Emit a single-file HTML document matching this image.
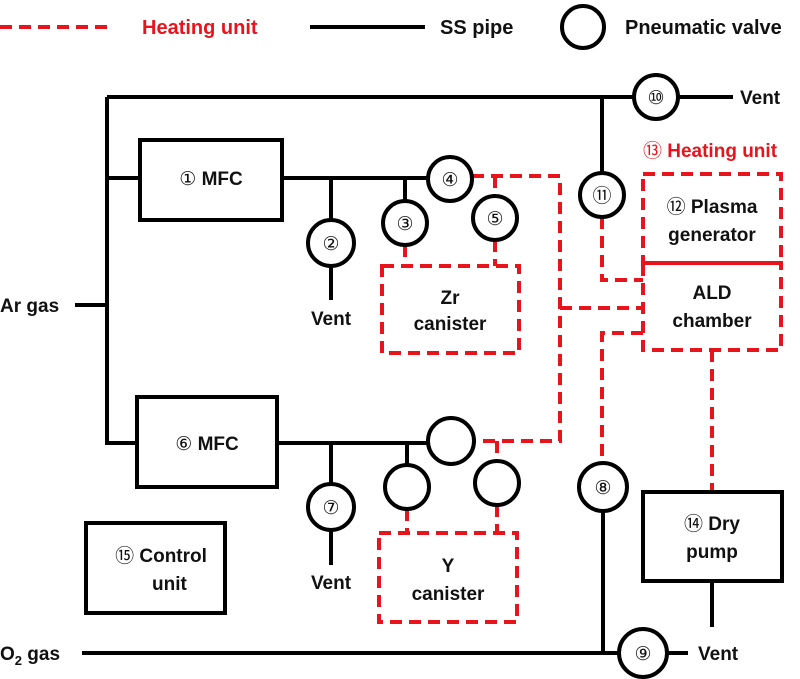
<!DOCTYPE html>
<html><head><meta charset="utf-8"><style>
html,body{margin:0;padding:0;background:#fff;}
svg{display:block;}
text{font-family:"Liberation Sans","DejaVu Sans",sans-serif;font-weight:bold;font-size:19px;fill:#111;}
.n{font-family:"DejaVu Sans",sans-serif;font-weight:normal;font-size:19px;}
.r{fill:#e8141b;}
.lg{font-size:20px;}
</style></head><body>
<svg width="800" height="679" viewBox="0 0 800 679" xmlns="http://www.w3.org/2000/svg">
<g fill="none" stroke="#e8141b" stroke-width="4" stroke-dasharray="12,7">
<line x1="0" y1="27" x2="114" y2="27"/>
<polyline points="472,176 560,176 560,441 474,441"/>
<line x1="495" y1="176" x2="495" y2="196"/>
<line x1="497" y1="441" x2="497" y2="461"/>
<line x1="560" y1="308" x2="643" y2="308"/>
<polyline points="602,217 602,280 643,280"/>
<polyline points="643,333 602,333 602,463"/>
<line x1="405" y1="245" x2="405" y2="266"/>
<line x1="495" y1="240" x2="495" y2="266"/>
<rect x="382" y="266" width="137" height="87"/>
<line x1="407" y1="509" x2="407" y2="533"/>
<line x1="497" y1="505" x2="497" y2="533"/>
<rect x="379" y="533" width="138" height="89"/>
<rect x="643" y="174" width="138" height="89"/>
<rect x="643" y="263" width="138" height="87"/>
<line x1="712" y1="350" x2="712" y2="492"/>
</g>
<g fill="none" stroke="#000" stroke-width="4">
<line x1="310" y1="27" x2="425" y2="27"/>
<line x1="107" y1="97" x2="634" y2="97"/>
<line x1="678" y1="97" x2="733" y2="97"/>
<polyline points="140,178 107,178 107,97"/>
<polyline points="107,178 107,443 137,443"/>
<line x1="75" y1="305" x2="107" y2="305"/>
<rect x="140" y="140" width="142" height="80"/>
<line x1="282" y1="178" x2="428" y2="178"/>
<line x1="331" y1="178" x2="331" y2="220"/>
<line x1="331" y1="266" x2="331" y2="300"/>
<line x1="405" y1="178" x2="405" y2="201"/>
<line x1="602" y1="97" x2="602" y2="173"/>
<rect x="137" y="397" width="140" height="90"/>
<line x1="277" y1="443" x2="428" y2="443"/>
<line x1="331" y1="443" x2="331" y2="484"/>
<line x1="331" y1="530" x2="331" y2="565"/>
<line x1="407" y1="443" x2="407" y2="465"/>
<rect x="86" y="523" width="139" height="90"/>
<line x1="82" y1="653" x2="619" y2="653"/>
<line x1="603" y1="511" x2="603" y2="653"/>
<line x1="667" y1="653" x2="688" y2="653"/>
<rect x="643" y="492" width="139" height="89"/>
<line x1="712" y1="581" x2="712" y2="627"/>
<circle cx="583" cy="27" r="21"/>
<circle cx="656" cy="97" r="22"/>
<circle cx="450" cy="179" r="22"/>
<circle cx="331" cy="243" r="23"/>
<circle cx="405" cy="223" r="22"/>
<circle cx="495" cy="218" r="22"/>
<circle cx="602" cy="195" r="22"/>
<circle cx="451" cy="441" r="23"/>
<circle cx="331" cy="507" r="23"/>
<circle cx="407" cy="487" r="22"/>
<circle cx="497" cy="483" r="22"/>
<circle cx="603" cy="487" r="24"/>
<circle cx="643" cy="653" r="24"/>
</g>
<text x="142" y="34" class="r lg">Heating unit</text>
<text x="440" y="34" class="lg">SS pipe</text>
<text x="625" y="34" class="lg">Pneumatic valve</text>
<text x="740" y="104">Vent</text>
<text x="0" y="312">Ar gas</text>
<text x="0" y="660">O<tspan font-size="13" dy="5">2</tspan><tspan dy="-5"> gas</tspan></text>
<text x="211" y="185" text-anchor="middle"><tspan class="n">①</tspan> MFC</text>
<text x="207" y="450" text-anchor="middle"><tspan class="n">⑥</tspan> MFC</text>
<text class="n" x="450" y="186" text-anchor="middle">④</text>
<text class="n" x="331" y="250" text-anchor="middle">②</text>
<text class="n" x="405" y="230" text-anchor="middle">③</text>
<text class="n" x="495" y="225" text-anchor="middle">⑤</text>
<text class="n" x="602" y="202" text-anchor="middle">⑪</text>
<text class="n" x="656" y="104" text-anchor="middle">⑩</text>
<text class="n" x="331" y="514" text-anchor="middle">⑦</text>
<text class="n" x="603" y="494" text-anchor="middle">⑧</text>
<text class="n" x="643" y="660" text-anchor="middle">⑨</text>
<text x="331" y="325" text-anchor="middle">Vent</text>
<text x="331" y="589" text-anchor="middle">Vent</text>
<text x="698" y="660">Vent</text>
<text x="450" y="304" text-anchor="middle">Zr</text>
<text x="450" y="330" text-anchor="middle">canister</text>
<text x="448" y="572" text-anchor="middle">Y</text>
<text x="448" y="600" text-anchor="middle">canister</text>
<text x="710" y="157" text-anchor="middle" class="r"><tspan class="n r">⑬</tspan> Heating unit</text>
<text x="712" y="213" text-anchor="middle"><tspan class="n">⑫</tspan> Plasma</text>
<text x="712" y="241" text-anchor="middle">generator</text>
<text x="712" y="299" text-anchor="middle">ALD</text>
<text x="712" y="327" text-anchor="middle">chamber</text>
<text x="712" y="530" text-anchor="middle"><tspan class="n">⑭</tspan> Dry</text>
<text x="712" y="558" text-anchor="middle">pump</text>
<text x="161" y="562" text-anchor="middle"><tspan class="n">⑮</tspan> Control</text>
<text x="152" y="590">unit</text>
</svg>
</body></html>
